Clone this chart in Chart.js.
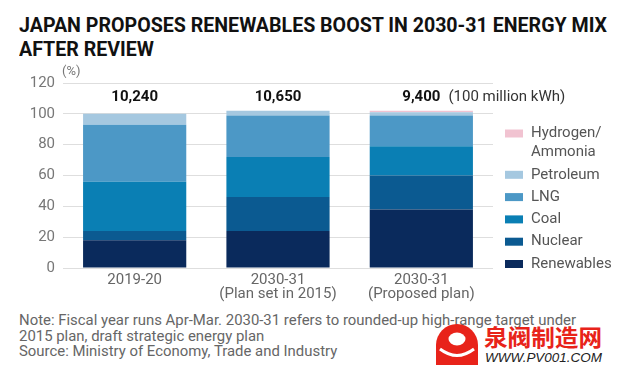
<!DOCTYPE html>
<html>
<head>
<meta charset="utf-8">
<script src="https://cdn.jsdelivr.net/npm/chart.js@4"></script>
<style>
  html, body { margin: 0; padding: 0; background: #fff; }
  body { width: 619px; height: 375px; position: relative; overflow: hidden; font-family: Roboto, "Noto Sans", sans-serif; }
  .fit { position: absolute; white-space: nowrap; transform-origin: 0 0; }
  #title1, #title2 { left: 19px; font-family: Roboto, "Liberation Sans", sans-serif; font-weight: bold; font-size: 21px; line-height: 24px; color: #111; }
  #title1 { top: 13px; }
  #title2 { top: 37px; }
  #wrap { position: absolute; left: 0; top: 0; width: 619px; height: 310px; }
  .note { left: 19px; font-size: 15px; line-height: 16px; color: #666; }
  #n1 { top: 312px; }
  #n2 { top: 327.5px; }
  #n3 { top: 343px; }
  #logo { position: absolute; left: 436px; top: 324px; }
  #cn { left: 484px; top: 321px; font-family: "Noto Sans CJK SC", sans-serif; font-weight: bold; font-size: 23px; line-height: 30px; color: #e8231a; }
  #url { left: 485px; top: 350px; font-family: "Liberation Sans", sans-serif; font-style: italic; font-size: 13.5px; line-height: 16px; color: #222; }
</style>
</head>
<body>
<div id="title1" class="fit" data-w="588">JAPAN PROPOSES RENEWABLES BOOST IN 2030-31 ENERGY MIX</div>
<div id="title2" class="fit" data-ref="title1">AFTER REVIEW</div>
<div id="wrap"><canvas id="c" width="619" height="310"></canvas></div>
<div id="n1" class="fit note" data-w="557">Note: Fiscal year runs Apr-Mar. 2030-31 refers to rounded-up high-range target under</div>
<div id="n2" class="fit note" data-ref="n1">2015 plan, draft strategic energy plan</div>
<div id="n3" class="fit note" data-ref="n1">Source: Ministry of Economy, Trade and Industry</div>
<svg id="logo" width="42" height="41" viewBox="0 0 42 41">
  <path d="M0 21 A21 21 0 0 1 42 21 L42 41 L0 41 Z" fill="#e8231a"/>
  <ellipse cx="21" cy="15" rx="8.5" ry="6.5" fill="#fff"/>
  <path d="M4 25 Q21 38 38 25" stroke="#fff" stroke-width="3" fill="none"/>
</svg>
<div id="cn" class="fit" data-w="118">泉阀制造网</div>
<div id="url" class="fit" data-w="117">WWW.PV001.COM</div>
<script>
// ---- data ----
const categories = [["2019-20"], ["2030-31", "(Plan set in 2015)"], ["2030-31", "(Proposed plan)"]];
const totals = ["10,240", "10,650", "9,400"];
const totalsUnit = "(100 million kWh)";
const renewables = [18, 24, 38];
const nuclear = [6, 22, 22];
const coal = [32, 26, 19];
const lng = [37, 27, 20];
const petroleum = [7, 3, 2];
const hydrogen = [0, 0, 1];
const yTicks = [0, 20, 40, 60, 80, 100, 120];

// fit text widths
(function(){
  const scales = {};
  document.querySelectorAll('.fit').forEach(el => {
    const w = el.getBoundingClientRect().width;
    if (el.dataset.w && w > 0) {
      scales[el.id] = parseFloat(el.dataset.w) / w;
    }
  });
  document.querySelectorAll('.fit').forEach(el => {
    const s = scales[el.id] || scales[el.dataset.ref];
    if (s) el.style.transform = "scaleX(" + s + ")";
  });
})();

const series = [
  { label: ["Renewables"], data: renewables, color: "#0a2a5c" },
  { label: ["Nuclear"], data: nuclear, color: "#0b5a91" },
  { label: ["Coal"], data: coal, color: "#0a7fb4" },
  { label: ["LNG"], data: lng, color: "#4c98c6" },
  { label: ["Petroleum"], data: petroleum, color: "#a5c8e0" },
  { label: ["Hydrogen/", "Ammonia"], data: hydrogen, color: "#f1c3d1" }
];

const extras = {
  id: "extras",
  afterDraw(chart) {
    const ctx = chart.ctx;
    ctx.save();
    const meta = chart.getDatasetMeta(0);
    ctx.textBaseline = "middle";
    ctx.textAlign = "center";
    ctx.fillStyle = "#111";
    ctx.font = "bold 15px Roboto, 'Noto Sans', sans-serif";
    totals.forEach((t, i) => {
      const x = meta.data[i].x;
      ctx.fillText(t, x, 97);
      if (i === totals.length - 1) {
        const w = ctx.measureText(t).width;
        ctx.font = "15px Roboto, 'Noto Sans', sans-serif";
        ctx.textAlign = "left";
        ctx.fillStyle = "#333";
        ctx.fillText(totalsUnit, x + w / 2 + 8, 97);
      }
    });
    ctx.font = "13px Roboto, 'Noto Sans', sans-serif";
    ctx.fillStyle = "#777";
    ctx.textAlign = "left";
    ctx.fillText("(%)", chart.chartArea.left - 1, 72);
    const rows = [];
    for (let i = series.length - 1; i >= 0; i--) rows.push(series[i]);
    let y = 133.5;
    ctx.font = "15px Roboto, 'Noto Sans', sans-serif";
    rows.forEach(s => {
      ctx.fillStyle = s.color;
      ctx.fillRect(505, y - 4, 18, 8);
      ctx.fillStyle = "#555";
      s.label.forEach((ln, k) => {
        ctx.fillText(ln, 531, y + k * 19);
      });
      y += 22.3 + (s.label.length - 1) * 19;
    });
    ctx.restore();
  }
};

new Chart(document.getElementById("c"), {
  type: "bar",
  data: {
    labels: categories,
    datasets: series.map(s => ({
      label: s.label.join(" "),
      data: s.data,
      backgroundColor: s.color,
      borderWidth: 0,
      categoryPercentage: 0.72,
      barPercentage: 1.0
    }))
  },
  options: {
    responsive: false,
    animation: false,
    layout: { padding: { top: 83, right: 126, left: 0, bottom: 0 } },
    plugins: { legend: { display: false }, tooltip: { enabled: false } },
    scales: {
      x: {
        stacked: true,
        grid: { display: false },
        border: { display: false },
        ticks: { color: "#666", font: { size: 15, family: "Roboto, 'Noto Sans', sans-serif", lineHeight: 0.95 }, padding: -3, maxRotation: 0 },
        afterFit(scale) { scale.height = 42; }
      },
      y: {
        stacked: true,
        min: 0, max: 120,
        afterBuildTicks(scale) { scale.ticks = yTicks.map(v => ({ value: v })); },
        grid: { color: "#dedede", drawTicks: false, lineWidth: 1 },
        border: { display: false },
        ticks: { color: "#777", font: { size: 15, family: "Roboto, 'Noto Sans', sans-serif" }, padding: 8 },
        afterFit(scale) { scale.width = 63; }
      }
    }
  },
  plugins: [extras]
});
</script>
</body>
</html>
